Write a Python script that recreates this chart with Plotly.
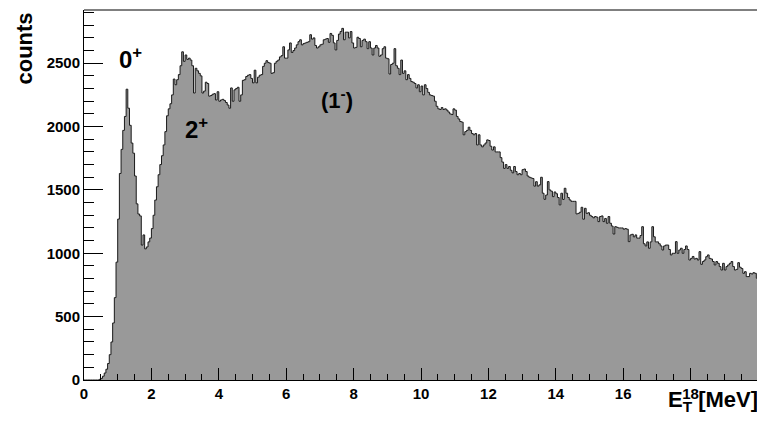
import numpy as np
import plotly.graph_objects as go

# Histogram: E_T from 0 to 20 MeV, 0.05 MeV bins
e_min = 0.0
bin_width = 0.05
counts = [
    0, 0, 0, 0, 0, 0, 0, 0, 0, 5, 13, 30, 55, 85, 130, 200, 300, 450, 650, 930,
    1270, 1630, 1820, 1970, 2080, 2295, 2145, 2010, 1870, 1790, 1610, 1390, 1310, 1295, 1065, 1145, 1035, 1050, 1090, 1120,
    1195, 1300, 1420, 1525, 1620, 1700, 1770, 1855, 1960, 2085, 2140, 2180, 2250, 2375, 2330, 2370, 2410, 2480, 2590, 2515,
    2565, 2530, 2540, 2525, 2480, 2265, 2460, 2440, 2420, 2400, 2265, 2280, 2350, 2340, 2240, 2245, 2255, 2260, 2210, 2275,
    2200, 2210, 2215, 2205, 2190, 2170, 2145, 2305, 2200, 2290, 2300, 2310, 2200, 2250, 2365, 2370, 2395, 2405, 2410, 2380,
    2345, 2445, 2345, 2390, 2405, 2410, 2475, 2500, 2520, 2505, 2500, 2420, 2425, 2500, 2515, 2525, 2550, 2560, 2630, 2540,
    2540, 2605, 2660, 2585, 2600, 2620, 2645, 2670, 2685, 2645, 2655, 2660, 2665, 2670, 2725, 2690, 2700, 2640, 2620, 2630,
    2645, 2650, 2685, 2690, 2695, 2665, 2735, 2720, 2660, 2605, 2680, 2730, 2750, 2775, 2685, 2745, 2745, 2700, 2750, 2660,
    2620, 2625, 2705, 2695, 2630, 2680, 2690, 2670, 2615, 2670, 2620, 2565, 2620, 2640, 2620, 2555, 2565, 2615, 2630, 2540,
    2535, 2415, 2490, 2500, 2615, 2480, 2460, 2410, 2525, 2420, 2440, 2370, 2410, 2380, 2355, 2350, 2340, 2305, 2330, 2275,
    2320, 2250, 2330, 2300, 2270, 2250, 2245, 2240, 2200, 2160, 2140, 2135, 2150, 2135, 2140, 2130, 2115, 2100, 2095, 2140,
    2130, 2080, 2060, 2040, 2035, 1935, 1960, 1970, 1995, 1970, 1945, 1935, 1945, 1855, 1935, 1855, 1840, 1855, 1870, 1895,
    1890, 1845, 1815, 1840, 1800, 1800, 1800, 1755, 1720, 1670, 1700, 1670, 1685, 1655, 1635, 1685, 1645, 1620, 1630, 1620,
    1660, 1665, 1645, 1610, 1600, 1595, 1590, 1530, 1565, 1530, 1540, 1600, 1474, 1426, 1460, 1566, 1500, 1490, 1447, 1484,
    1470, 1440, 1382, 1474, 1425, 1513, 1474, 1440, 1421, 1410, 1410, 1410, 1311, 1315, 1324, 1363, 1269, 1355, 1315, 1320,
    1300, 1290, 1280, 1290, 1285, 1250, 1290, 1295, 1250, 1275, 1237, 1290, 1237, 1215, 1152, 1210, 1205, 1200, 1200, 1200,
    1190, 1195, 1190, 1092, 1145, 1150, 1130, 1145, 1120, 1120, 1140, 1210, 1075, 1058, 1090, 1040, 1090, 1210, 1130, 1090,
    1090, 1075, 1058, 1026, 1058, 1065, 1065, 1030, 987, 1000, 1000, 1092, 1000, 1026, 1040, 1000, 1030, 1058, 1030, 947,
    960, 975, 955, 960, 947, 1013, 913, 935, 947, 973, 987, 960, 955, 935, 908, 935, 921, 895, 868, 921,
    868, 895, 908, 921, 935, 895, 868, 873, 926, 890, 880, 842, 855, 816, 816, 842, 837, 847, 842, 803,
]

x_tick_vals = [0, 2, 4, 6, 8, 10, 12, 14, 16, 18]
y_tick_vals = [0, 500, 1000, 1500, 2000, 2500]

peak_labels = ["0<sup>+</sup>", "2<sup>+</sup>", "(1<sup>-</sup>)"]
peak_x = [1.37, 3.35, 7.5]
peak_y = [2540, 1990, 2220]

n = len(counts)
edges = e_min + np.arange(n + 1) * bin_width
y_steps = list(counts) + [counts[-1]]

FONT = "Liberation Sans, Arial, sans-serif"

fig = go.Figure()
fig.add_trace(go.Scatter(
    x=edges, y=y_steps, mode="lines", line_shape="hv",
    line=dict(color="#1a1a1a", width=1),
    fill="tozeroy", fillcolor="#999999",
    hoverinfo="skip", showlegend=False,
))

for txt, px, py in zip(peak_labels, peak_x, peak_y):
    size = 22 if txt.startswith("(") else 24
    fig.add_annotation(x=px, y=py, text="<b>" + txt + "</b>", showarrow=False,
                       font=dict(family=FONT, size=size, color="black"),
                       xanchor="center", yanchor="middle")

fig.add_annotation(xref="paper", yref="paper", x=-0.088, y=0.895, text="<b>counts</b>",
                   textangle=-90, showarrow=False,
                   font=dict(family=FONT, size=22, color="black"),
                   xanchor="center", yanchor="middle")
fig.add_annotation(xref="paper", yref="paper", x=1.003, y=-0.056,
                   text="<b>E<sub>T</sub> [MeV]</b>",
                   showarrow=False,
                   font=dict(family=FONT, size=22, color="black"),
                   xanchor="right", yanchor="middle")

# frame: top (black) and right (red)
fig.add_shape(type="line", xref="paper", yref="paper", x0=0, x1=1, y0=1, y1=1,
              line=dict(color="black", width=1))
fig.add_shape(type="line", xref="paper", yref="paper", x0=1, x1=1, y0=0, y1=1,
              line=dict(color="#9a1515", width=1.5))

# the page has an 8px body margin, so the figure is sized to fit the window
fig.update_layout(
    width=757, height=414,
    margin=dict(l=76, r=7, t=2, b=42, pad=0, autoexpand=False),
    paper_bgcolor="white", plot_bgcolor="white",
    font=dict(family=FONT, color="black"),
)
fig.update_xaxes(
    range=[0, 20], tickvals=x_tick_vals, ticktext=["<b>%d</b>" % v for v in x_tick_vals],
    ticks="inside", ticklen=12, tickwidth=1, tickcolor="black",
    minor=dict(dtick=0.5, tick0=0, ticks="inside", ticklen=6, tickcolor="black", tickwidth=1),
    showline=True, linecolor="black", linewidth=1, mirror=False,
    showgrid=False, zeroline=False, automargin=False,
    tickfont=dict(family=FONT, size=15, color="black"),
)
fig.update_yaxes(
    range=[0, 2920], tickvals=y_tick_vals, ticktext=["<b>%d</b>" % v for v in y_tick_vals],
    ticks="inside", ticklen=19, tickwidth=1, tickcolor="black",
    minor=dict(dtick=100, tick0=0, ticks="inside", ticklen=10, tickcolor="black", tickwidth=1),
    showline=True, linecolor="black", linewidth=1, mirror=False,
    showgrid=False, zeroline=False, automargin=False,
    tickfont=dict(family=FONT, size=15, color="black"),
)

fig.write_html("out.html")
